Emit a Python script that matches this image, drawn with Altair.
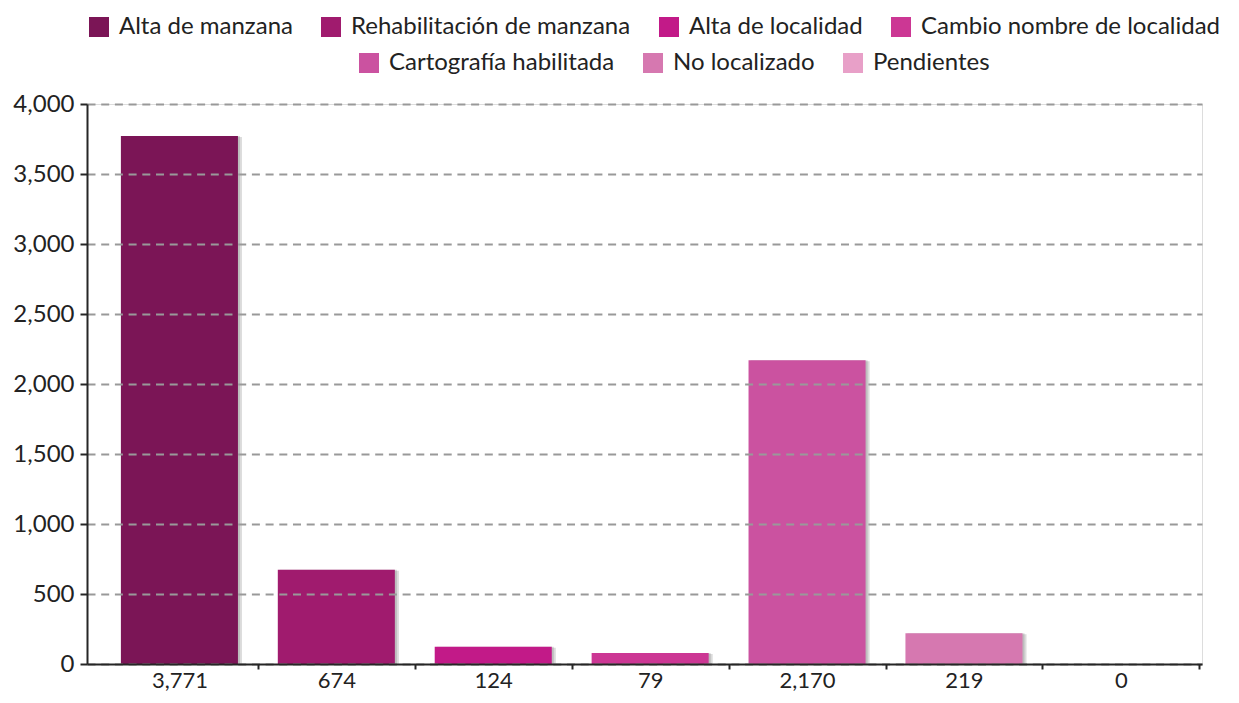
import altair as alt
import pandas as pd

categorias = [
    "Alta de manzana",
    "Rehabilitación de manzana",
    "Alta de localidad",
    "Cambio nombre de localidad",
    "Cartografía habilitada",
    "No localizado",
    "Pendientes",
]
valores = [3771, 674, 124, 79, 2170, 219, 0]
colores = ["#7B1556", "#A01B6E", "#C21A88", "#CC3794", "#CB52A0", "#D678B0", "#E8A0C8"]
ticks_y = [0, 500, 1000, 1500, 2000, 2500, 3000, 3500, 4000]

etiquetas = [f"{v:,}" for v in valores]
df = pd.DataFrame({"categoria": categorias, "valor": valores, "etiqueta": etiquetas})

FONT = "Lato"
grupo_a = categorias[:4]
grupo_b = categorias[4:]

half_step = 78.5

x_enc = alt.X(
    "etiqueta:N",
    sort=etiquetas,
    scale=alt.Scale(domain=etiquetas, paddingInner=0.254, paddingOuter=0.18, align=0.6),
    axis=alt.Axis(
        title=None,
        labelFont=FONT,
        labelFontSize=22,
        labelColor="#222222",
        labelAngle=0,
        labelPadding=1,
        tickOffset=half_step,
        labelOffset=-half_step,
        tickSize=5,
        tickWidth=2,
        tickColor="#262626",
        domainColor="#262626",
        domainWidth=2,
        grid=False,
        zindex=1,
    ),
)
y_enc = alt.Y(
    "valor:Q",
    scale=alt.Scale(domain=[0, 4000], nice=False),
    axis=alt.Axis(
        title=None,
        values=ticks_y,
        format=",.0f",
        labelFont=FONT,
        labelFontSize=24,
        labelColor="#222222",
        labelPadding=6,
        tickSize=7,
        tickWidth=2,
        tickColor="#262626",
        domainColor="#262626",
        domainWidth=2,
        grid=True,
        gridColor="#999999",
        gridWidth=2,
        gridDash=[8, 5.7],
        zindex=1,
    ),
)

base = alt.Chart(df)

sombra1 = base.mark_bar(color="#3a3a3a", opacity=0.18, xOffset=4, yOffset=1).encode(
    x=x_enc, y=y_enc
)
sombra2 = base.mark_bar(color="#3a3a3a", opacity=0.18, xOffset=2, yOffset=0).encode(
    x=x_enc, y=y_enc
)

leg_common = dict(
    title=None,
    orient="none",
    direction="horizontal",
    symbolType="square",
    symbolSize=400,
    symbolStrokeWidth=0,
    symbolOpacity=1,
    labelFont=FONT,
    labelFontSize=24,
    labelColor="#222222",
    labelOffset=8,
    columnPadding=26,
    labelLimit=400,
)

barras_a = base.transform_filter(
    alt.FieldOneOfPredicate(field="categoria", oneOf=grupo_a)
).mark_bar().encode(
    x=x_enc,
    y=y_enc,
    color=alt.Color(
        "categoria:N",
        sort=grupo_a,
        scale=alt.Scale(domain=grupo_a, range=colores[:4]),
        legend=alt.Legend(legendX=0, legendY=-89, **leg_common),
    ),
)

barras_b = base.transform_filter(
    alt.FieldOneOfPredicate(field="categoria", oneOf=grupo_b)
).mark_bar().encode(
    x=x_enc,
    y=y_enc,
    color=alt.Color(
        "categoria:N",
        sort=grupo_b,
        scale=alt.Scale(domain=grupo_b, range=colores[4:]),
        legend=alt.Legend(legendX=270, legendY=-53, **leg_common),
    ),
)

chart = (
    alt.layer(sombra1, sombra2, barras_a, barras_b)
    .resolve_scale(color="independent")
    .properties(
        width=1115,
        height=560,
        autosize=alt.AutoSizeParams(type="none"),
        padding={"left": 79, "top": 96, "right": 28, "bottom": 31},
    )
    .configure_view(stroke=None)
    .configure(background="white")
)

chart.save("out.html", embed_options={"renderer": "svg", "actions": False})
